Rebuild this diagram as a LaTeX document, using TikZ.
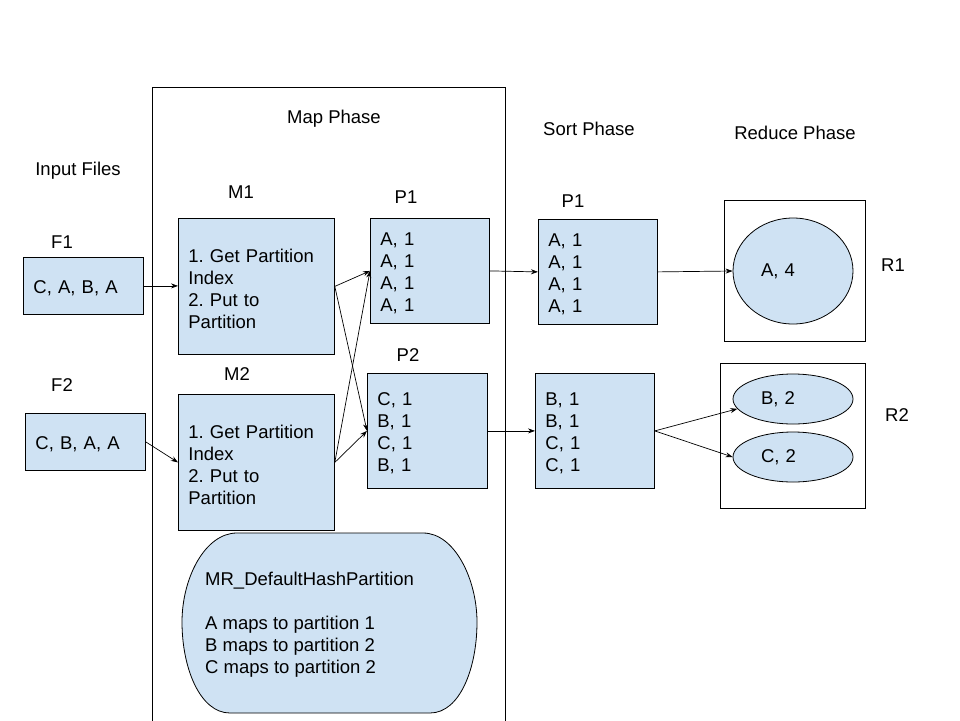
\documentclass[tikz,border=0pt]{standalone}
\usepackage{fontspec}
\setmainfont{Liberation Sans}
\usetikzlibrary{arrows.meta,shapes.geometric}
\definecolor{boxblue}{RGB}{207,226,243}
\frenchspacing
\newcommand{\fstrut}{\rule{0pt}{18pt}}
\begin{document}
\begin{tikzpicture}[x=1pt,y=-1pt,
  every node/.style={font=\fontsize{18.5}{22}\selectfont},
  box/.style={draw, fill=boxblue, line width=0.8pt, anchor=north west, align=left, inner xsep=10pt, inner ysep=0pt},
  lbl/.style={inner sep=0pt},
  oval/.style={ellipse, draw, fill=boxblue, line width=0.8pt, inner sep=0pt, align=left, text width=64pt},
  frame/.style={draw, line width=0.8pt},
  arr/.style={-{Stealth[length=7pt,width=5pt]}, line width=0.7pt}]
\useasboundingbox (0,0) rectangle (960,720);
% map phase frame
\draw[frame] (152,722) -- (152,87) -- (505,87) -- (505,722);
% labels
\node[lbl] (mapph) at (334,119) {Map Phase};
\node[lbl] (sortph) at (589,129) {Sort Phase};
\node[lbl] (redph) at (795,133) {Reduce Phase};
\node[lbl] (inp) at (78,171) {Input Files};
\node[lbl] (lM1) at (241,192) {M1};
\node[lbl] (lP1) at (406,197) {P1};
\node[lbl] (lSP1) at (573,201) {P1};
\node[lbl] (lF1) at (62,242) {F1};
\node[lbl] (lR1) at (893,265) {R1};
\node[lbl] (lP2) at (408,355) {P2};
\node[lbl] (lM2) at (237,374) {M2};
\node[lbl] (lF2) at (62,385) {F2};
\node[lbl] (lR2) at (897,415) {R2};
% input files
\node[box, text width=100pt, minimum height=57pt] (F1) at (23,257) {\fstrut C, A, B, A};
\node[box, text width=100pt, minimum height=57pt] (F2) at (25,413) {\fstrut C, B, A, A};
% mappers
\node[box, text width=136pt, minimum height=136pt] (M1) at (178,218) {\fstrut 1. Get Partition\\Index\\2. Put to\\Partition};
\node[box, text width=136pt, minimum height=136pt] (M2) at (178,394) {\fstrut 1. Get Partition\\Index\\2. Put to\\Partition};
% partitions
\node[box, text width=99pt, minimum height=105pt] (MP1) at (370,218) {\fstrut A, 1\\A, 1\\A, 1\\A, 1};
\node[box, text width=100pt, minimum height=115pt] (MP2) at (367,373) {\fstrut C, 1\\B, 1\\C, 1\\B, 1};
\node[box, text width=99pt, minimum height=105pt] (SP1) at (538,219) {\fstrut A, 1\\A, 1\\A, 1\\A, 1};
\node[box, text width=99pt, minimum height=115pt] (SP2) at (535,373) {\fstrut B, 1\\B, 1\\C, 1\\C, 1};
% reducers
\node[frame, anchor=north west, inner sep=0pt, minimum width=141pt, minimum height=141pt] (R1box) at (724,200) {};
\node[frame, anchor=north west, inner sep=0pt, minimum width=145pt, minimum height=145pt] (R2box) at (720,363) {};
\node[oval, minimum width=120pt, minimum height=106pt] (RA) at (793,271) {A, 4};
\node[oval, minimum width=120pt, minimum height=50pt] (RB) at (793,399) {B, 2};
\node[oval, minimum width=120pt, minimum height=50pt] (RC) at (793,457) {C, 2};
% hash partition shape
\draw[line width=0.8pt, fill=boxblue] (237,533) -- (423,533)
  .. controls (455,533) and (477,580) .. (477,622)
  .. controls (477,668) and (460,713) .. (430,713) -- (230,713)
  .. controls (200,713) and (182,668) .. (182,622)
  .. controls (182,578) and (205,533) .. (237,533) -- cycle;
\node[lbl, anchor=west, align=left] (HP) at (205,625) {MR\_DefaultHashPartition\\[22pt]A maps to partition 1\\B maps to partition 2\\C maps to partition 2};
% arrows
\draw[arr] (F1.east) -- (M1.west |- F1.east);
\draw[arr] (F2.east) -- (M2.west);
\draw[arr] (M1.east) -- (MP1.west);
\draw[arr] (M1.east) -- (MP2.west);
\draw[arr] (M2.east) -- (MP1.west);
\draw[arr] (M2.east) -- (MP2.west);
\draw[arr] (MP1.east) -- (SP1.west);
\draw[arr] (MP2.east) -- (SP2.west);
\draw[arr] (SP1.east) -- (RA.west);
\draw[arr] (SP2.east) -- (RB.190);
\draw[arr] (SP2.east) -- (RC.west);
\end{tikzpicture}
\end{document}
